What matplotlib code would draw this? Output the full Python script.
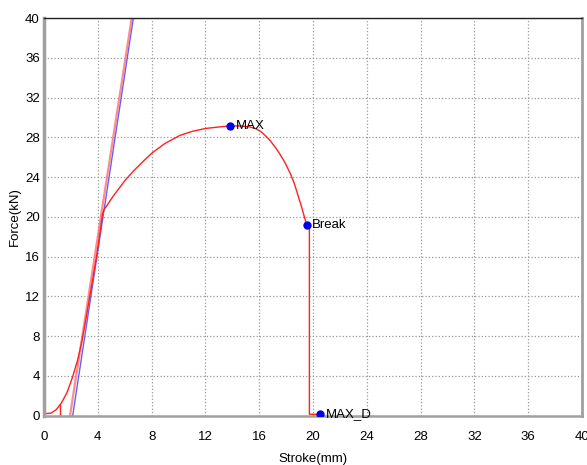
import matplotlib
matplotlib.use("Agg")
import matplotlib.pyplot as plt

plt.rcParams['font.family'] = ['Liberation Sans', 'DejaVu Sans']

# load-stroke curve
stroke = [0.0, 0.5, 0.9, 1.3, 1.7, 2.1, 2.5, 2.8, 3.1, 3.4, 3.65, 3.9, 4.15, 4.35, 4.45,
          4.8, 5.2, 5.65, 6.1, 6.64, 7.3, 8.0, 9.0, 10.1, 11.0, 12.0, 13.0, 13.8,
          14.6, 15.3, 15.7, 16.06, 16.4, 16.8, 17.2, 17.5, 17.9, 18.3, 18.6, 18.9,
          19.15, 19.4, 19.53, 19.73, 19.73, 20.52]
force = [0.2, 0.25, 0.6, 1.3, 2.3, 3.8, 5.6, 7.4, 9.6, 12.0, 14.0, 16.0, 18.3, 20.3, 20.7,
         21.4, 22.2, 23.0, 23.8, 24.6, 25.5, 26.4, 27.4, 28.2, 28.6, 28.9, 29.05, 29.15,
         29.15, 29.05, 28.9, 28.65, 28.25, 27.7, 27.0, 26.4, 25.5, 24.4, 23.4, 22.1,
         21.0, 19.8, 19.15, 18.9, 0.15, 0.13]

# elastic-slope lines
red_line_x = [1.93, 6.52]
red_line_y = [0, 40]
blue_line_x = [2.13, 6.64]
blue_line_y = [0, 40]
tick_x = [1.2, 1.2]
tick_y = [0, 1.1]

# marked points
pt_names = ["MAX", "Break", "MAX_D"]
pt_x = [13.83, 19.53, 20.52]
pt_y = [29.15, 19.15, 0.13]

ticks = list(range(0, 41, 4))

fig = plt.figure(figsize=(5.87, 4.65), dpi=100)
ax = fig.add_axes([0.075, 0.106, 0.9165, 0.855])

ax.plot(blue_line_x, blue_line_y, color='#5050ff', lw=1.0, alpha=0.9)
ax.plot(red_line_x, red_line_y, color='#ff7070', lw=1.6, alpha=0.8)
ax.plot(stroke, force, color='#ff2020', lw=1.0)
ax.plot(tick_x, tick_y, color='#ff2020', lw=1.0)

ax.plot(pt_x, pt_y, 'o', color='#0000ee', ms=5, zorder=5)
for n, x, y in zip(pt_names, pt_x, pt_y):
    ax.text(x + 0.4, y, n, fontsize=9.5, va='center', ha='left')

ax.set_xlim(0, 40)
ax.set_ylim(0, 40)
ax.set_xticks(ticks)
ax.set_yticks(ticks)
ax.tick_params(length=0, labelsize=9.5)
ax.tick_params(axis='x', pad=11)
ax.tick_params(axis='y', pad=3)
ax.grid(True, linestyle=':', color='#999999', lw=0.9)
ax.set_xlabel("Stroke(mm)", fontsize=9.5, labelpad=7)
ax.set_ylabel("Force(kN)", fontsize=9.5, labelpad=3)

ax.spines['top'].set_color('#222222')
ax.spines['top'].set_linewidth(1.0)
for s in ['left', 'right', 'bottom']:
    ax.spines[s].set_color('#a0a0a0')
ax.spines['left'].set_linewidth(2.5)
ax.spines['right'].set_linewidth(2.0)
ax.spines['bottom'].set_linewidth(1.8)

fig.savefig("out.png", dpi=100)
